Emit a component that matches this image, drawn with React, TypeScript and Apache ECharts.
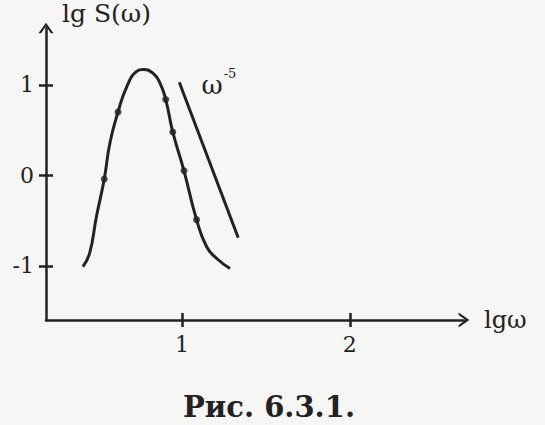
import React, { useEffect, useRef } from "react";
import * as echarts from "echarts";

// Main spectrum curve: [lg ω, lg S(ω)]
const curveX = [0.41, 0.45, 0.49, 0.537, 0.571, 0.619, 0.671, 0.73, 0.77, 0.827, 0.869, 0.903, 0.945, 1.012, 1.087, 1.147, 1.207, 1.286];
const curveY = [-1.01, -0.86, -0.46, -0.04, 0.36, 0.7, 0.98, 1.15, 1.17, 1.13, 1.02, 0.84, 0.48, 0.05, -0.49, -0.79, -0.92, -1.03];
// Measured points (dots)
const dotX = [0.537, 0.619, 0.903, 0.945, 1.012, 1.087];
const dotY = [-0.04, 0.7, 0.84, 0.48, 0.05, -0.49];
// ω^-5 reference slope line
const slopeX = [0.984, 1.335];
const slopeY = [1.03, -0.69];
// Tick labels
const xTicks = [1, 2];
const yTicks = [-1, 0, 1];

const INK = "#222222";
const FONT = "'DejaVu Serif', 'Liberation Serif', serif";
const ARROW = "path://M0,10 L7,0 L14,10 L11.6,10 L7,3.4 L2.4,10 Z";

export default function App() {
  const ref = useRef<HTMLDivElement>(null);
  useEffect(() => {
    if (!ref.current) return;
    const chart = echarts.init(ref.current, undefined, { renderer: "svg" });
    const zip = (xs: number[], ys: number[]) => xs.map((x, i) => [x, ys[i]]);
    const xMin = 0.19, xMax = 2.68, yMin = -1.6, yMax = 1.63;
    const baseX = {
      type: "value" as const,
      min: xMin,
      max: xMax,
      splitLine: { show: false },
    };
    const baseY = {
      type: "value" as const,
      min: yMin,
      max: yMax,
      splitLine: { show: false },
    };
    const lbl = { fontFamily: FONT, fontSize: 22, fontWeight: "normal", color: INK };
    chart.setOption({
      animation: false,
      backgroundColor: "#f6f6f4",
      title: [
        {
          text: "Рис. 6.3.1.",
          left: 178,
          top: 387,
          textStyle: { fontFamily: FONT, fontSize: 29, fontWeight: "bold", color: INK },
        },
        {
          text: "lg S(ω)",
          left: 62,
          top: 1,
          padding: 0,
          textStyle: { fontFamily: FONT, fontSize: 25, fontWeight: "normal", color: INK },
        },
      ],
      grid: { left: 46, right: 81, top: 28, bottom: 105, containLabel: false },
      xAxis: [
        {
          ...baseX,
          name: "lgω",
          nameLocation: "end",
          nameGap: 20,
          nameTextStyle: { ...lbl, fontSize: 24, verticalAlign: "middle" },
          axisLine: {
            show: true,
            onZero: false,
            symbol: ["none", ARROW],
            symbolSize: [15, 12],
            lineStyle: { color: INK, width: 2.5 },
          },
          axisTick: { show: true, inside: false, length: 7, customValues: xTicks, lineStyle: { color: INK, width: 2.5 } },
          axisLabel: { show: true, customValues: xTicks, margin: 13, ...lbl },
        },
        {
          ...baseX,
          position: "bottom",
          offset: 0,
          axisLine: { show: false, onZero: false },
          axisTick: { show: true, inside: true, length: 7, customValues: xTicks, lineStyle: { color: INK, width: 2.5 } },
          axisLabel: { show: false },
        },
      ],
      yAxis: [
        {
          ...baseY,
          axisLine: {
            show: true,
            onZero: false,
            symbol: ["none", ARROW],
            symbolSize: [15, 12],
            lineStyle: { color: INK, width: 2.5 },
          },
          axisTick: { show: true, inside: false, length: 7, customValues: yTicks, lineStyle: { color: INK, width: 2.5 } },
          axisLabel: { show: true, customValues: yTicks, margin: 12, padding: [7, 0, 0, 0], ...lbl },
        },
        {
          ...baseY,
          position: "left",
          offset: 0,
          axisLine: { show: false, onZero: false },
          axisTick: { show: true, inside: true, length: 7, customValues: yTicks, lineStyle: { color: INK, width: 2.5 } },
          axisLabel: { show: false },
        },
      ],
      series: [
        {
          type: "line",
          data: zip(curveX, curveY),
          smooth: 0.5,
          showSymbol: false,
          lineStyle: { color: INK, width: 3 },
        },
        {
          type: "scatter",
          data: zip(dotX, dotY),
          symbol: "circle",
          symbolSize: 7,
          itemStyle: { color: INK },
        },
        {
          type: "line",
          data: zip(slopeX, slopeY),
          showSymbol: false,
          lineStyle: { color: INK, width: 3 },
          markPoint: {
            symbol: "circle",
            symbolSize: 0,
            data: [{ coord: [1.22, 1.0] }],
            label: {
              show: true,
              formatter: "{w|ω}{s|-5}",
              rich: {
                w: { fontFamily: FONT, fontSize: 26, color: INK },
                s: { fontFamily: FONT, fontSize: 13, color: INK, verticalAlign: "top", padding: [0, 0, 22, 1] },
              },
            },
          },
        },
      ],
    });
    return () => chart.dispose();
  }, []);
  return <div ref={ref} style={{ width: 545, height: 425, position: "absolute", left: 0, top: 0 }} />;
}
